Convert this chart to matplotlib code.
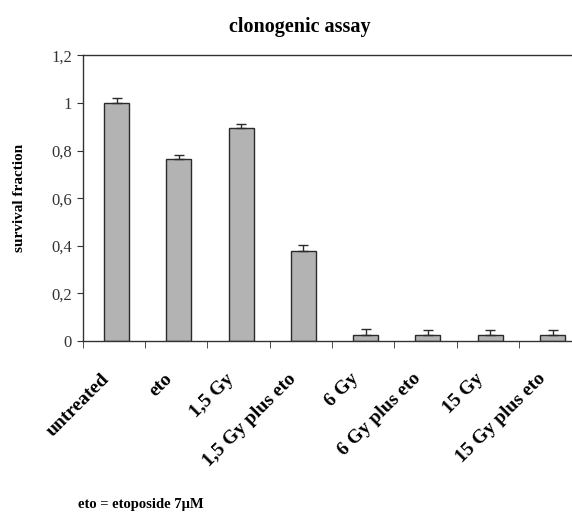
import matplotlib
matplotlib.use('Agg')
import matplotlib.pyplot as plt
import numpy as np

categories = ['untreated', 'eto', '1,5 Gy', '1,5 Gy plus eto', '6 Gy',
              '6 Gy plus eto', '15 Gy', '15 Gy plus eto']
survival = [1.0, 0.765, 0.895, 0.38, 0.025, 0.025, 0.025, 0.025]
errors = [0.02, 0.016, 0.018, 0.025, 0.024, 0.02, 0.02, 0.02]
yticks = [0, 0.2, 0.4, 0.6, 0.8, 1.0, 1.2]
ytick_labels = ['0', '0,2', '0,4', '0,6', '0,8', '1', '1,2']

plt.rcParams['font.family'] = ['Liberation Serif', 'DejaVu Serif']

fig = plt.figure(figsize=(5.72, 5.16), dpi=100)
ax = fig.add_axes([0.145, 0.339, 0.871, 0.554])

x = np.arange(len(categories))
# only the upper half of each error bar is drawn
ax.bar(x + 0.04, survival, width=0.4, color='#b3b3b3', edgecolor='#2b2b2b', linewidth=1.0,
       yerr=[np.zeros(len(errors)), errors],
       error_kw=dict(ecolor='#2b2b2b', elinewidth=1.0, capsize=3.5, capthick=1.0))

ax.set_xlim(-0.5, len(categories) - 0.5)
ax.set_ylim(0, 1.2)
ax.set_yticks(yticks)
ax.set_yticklabels(ytick_labels, fontsize=12, color='#333333')
ax.tick_params(axis='y', direction='out', length=4, color='#333333', pad=4)

ax.set_xticks(x - 0.21)
ax.set_xticklabels(categories, rotation=45, ha='right', va='top', fontsize=14,
                   fontweight='bold', rotation_mode='anchor')
ax.tick_params(axis='x', which='major', length=0, pad=21)
ax.set_xticks(np.arange(len(categories)) - 0.5, minor=True)
ax.tick_params(axis='x', which='minor', direction='out', length=5, color='#333333')

for s in ['left', 'bottom', 'top']:
    ax.spines[s].set_color('#333333')
    ax.spines[s].set_linewidth(1.0)
ax.spines['right'].set_visible(False)

ax.set_ylabel('survival fraction', fontsize=11, fontweight='bold', labelpad=18)
fig.text(0.524, 0.948, 'clonogenic assay', ha='center', va='center',
         fontsize=14.5, fontweight='bold')
fig.text(0.136, 0.01, 'eto = etoposide 7\u03bcM', ha='left', va='bottom', fontsize=10.5,
         fontweight='bold')

fig.savefig('out.png', dpi=100)
